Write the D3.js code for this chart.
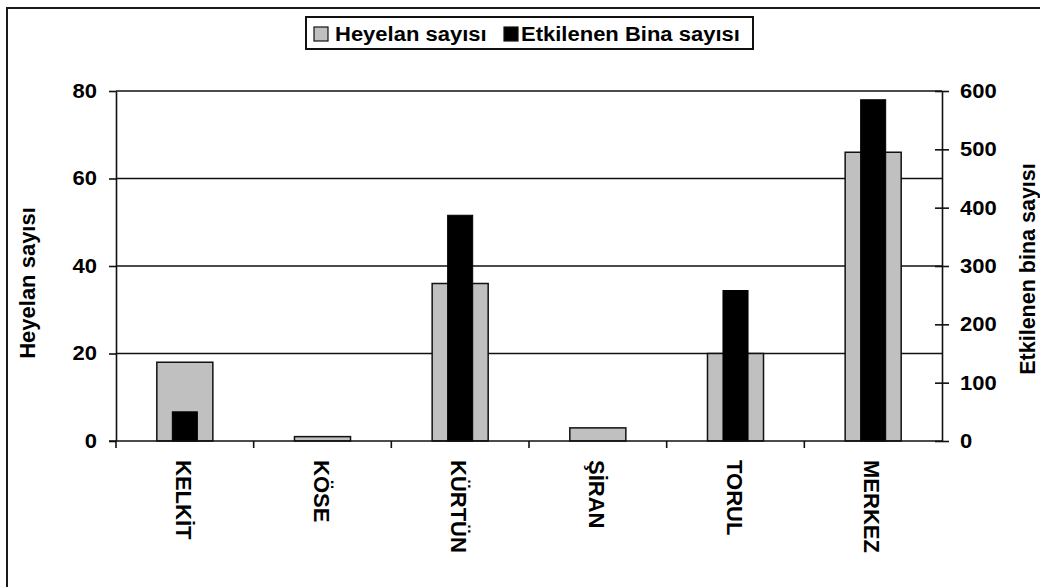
<!DOCTYPE html>
<html>
<head>
<meta charset="utf-8">
<script src="https://cdn.jsdelivr.net/npm/d3@7"></script>
<style>
  html, body { margin: 0; padding: 0; background: #fff; }
  svg { display: block; font-family: "Liberation Sans", Arial, sans-serif; }
</style>
</head>
<body>
<svg id="chart" width="1040" height="587"></svg>
<script>
const categories = ["KELKİT", "KÖSE", "KÜRTÜN", "ŞİRAN", "TORUL", "MERKEZ"];
const heyelanValues = [18, 1, 36, 3, 20, 66];
const binaValues = [50, 0, 387, 0, 258, 585];
const leftTicks = [0, 20, 40, 60, 80];
const rightTicks = [0, 100, 200, 300, 400, 500, 600];
const seriesNames = ["Heyelan sayısı", "Etkilenen Bina sayısı"];
const axisTitles = ["Heyelan sayısı", "Etkilenen bina sayısı"];

const svg = d3.select("#chart");
const W = 1040, H = 587;
const plot = { left: 116, right: 942, top: 91, bottom: 441 };
const stretch = 1.1;

// outer frame (cropped at right/bottom)
svg.append("rect")
  .attr("x", 7).attr("y", 8)
  .attr("width", W + 20).attr("height", H + 20)
  .attr("fill", "none").attr("stroke", "#1a1a1a").attr("stroke-width", 2);

const x = d3.scaleBand().domain(categories).range([plot.left, plot.right]).paddingInner(0).paddingOuter(0);
const yL = d3.scaleLinear().domain([0, 80]).range([plot.bottom, plot.top]);
const yR = d3.scaleLinear().domain([0, 600]).range([plot.bottom, plot.top]);

// gridlines
svg.append("g").selectAll("line").data(leftTicks.filter(d => d > 0)).join("line")
  .attr("x1", plot.left).attr("x2", plot.right)
  .attr("y1", d => yL(d)).attr("y2", d => yL(d))
  .attr("stroke", "#111").attr("stroke-width", 1.6);

const grayW = x.bandwidth() * 0.407;
const blackW = x.bandwidth() * 0.182;

// gray bars
svg.append("g").selectAll("rect").data(categories).join("rect")
  .attr("x", d => x(d) + x.bandwidth() / 2 - grayW / 2)
  .attr("width", grayW)
  .attr("y", (d, i) => yL(heyelanValues[i]))
  .attr("height", (d, i) => yL(0) - yL(heyelanValues[i]))
  .attr("fill", "#c0c0c0").attr("stroke", "#111").attr("stroke-width", 1.5);

// black bars
svg.append("g").selectAll("rect").data(categories.filter((d, i) => binaValues[i] > 0)).join("rect")
  .attr("x", d => x(d) + x.bandwidth() / 2 - blackW / 2)
  .attr("width", blackW)
  .attr("y", d => yR(binaValues[categories.indexOf(d)]))
  .attr("height", d => yR(0) - yR(binaValues[categories.indexOf(d)]))
  .attr("fill", "#000").attr("stroke", "#000").attr("stroke-width", 1);

function styleAxis(g) {
  g.select(".domain").attr("stroke", "#111").attr("stroke-width", 1.6);
  g.selectAll(".tick line").attr("stroke", "#111").attr("stroke-width", 1.6);
  g.selectAll("text").attr("fill", "#000").attr("font-weight", "bold").attr("font-size", 20);
}

function stretchText(sel) {
  sel.each(function () {
    const len = this.getComputedTextLength();
    d3.select(this).attr("textLength", len * stretch).attr("lengthAdjust", "spacingAndGlyphs");
  });
}

// left axis
const gL = svg.append("g").attr("transform", `translate(${plot.left},0)`)
  .call(d3.axisLeft(yL).tickValues(leftTicks).tickSize(7).tickPadding(12).tickSizeOuter(0));
styleAxis(gL);
stretchText(gL.selectAll("text"));

// right axis
const gR = svg.append("g").attr("transform", `translate(${plot.right},0)`)
  .call(d3.axisRight(yR).tickValues(rightTicks).tickSize(7).tickPadding(11).tickSizeOuter(0));
styleAxis(gR);
gR.selectAll(".tick line").attr("x1", -7);
stretchText(gR.selectAll("text"));

// bottom axis
const gB = svg.append("g").attr("transform", `translate(0,${plot.bottom})`)
  .call(d3.axisBottom(x).tickSize(0).tickSizeOuter(0));
gB.select(".domain").remove();
svg.append("line").attr("x1", plot.left - 7).attr("x2", plot.right)
  .attr("y1", plot.bottom).attr("y2", plot.bottom).attr("stroke", "#111").attr("stroke-width", 1.6);
// category separator ticks
const boundaries = categories.map(d => x(d)).slice(1);
svg.append("g").selectAll("line").data(boundaries).join("line")
  .attr("x1", d => d).attr("x2", d => d)
  .attr("y1", plot.bottom).attr("y2", plot.bottom + 7)
  .attr("stroke", "#111").attr("stroke-width", 1.6);
svg.append("line").attr("x1", plot.left).attr("x2", plot.left)
  .attr("y1", plot.bottom).attr("y2", plot.bottom + 7)
  .attr("stroke", "#111").attr("stroke-width", 1.6);

gB.selectAll(".tick text")
  .attr("font-size", 22).attr("font-weight", "bold").attr("fill", "#000")
  .attr("text-anchor", "start")
  .attr("transform", "translate(-1,19) rotate(90)")
  .attr("x", 0).attr("y", 0).attr("dy", "0.36em");

// axis titles
svg.append("text")
  .attr("transform", `translate(27,283) rotate(-90)`)
  .attr("text-anchor", "middle").attr("dy", "0.36em")
  .attr("font-size", 22).attr("font-weight", "bold")
  .text(axisTitles[0]);
svg.append("text")
  .attr("transform", `translate(1027,269) rotate(-90)`)
  .attr("text-anchor", "middle").attr("dy", "0.36em")
  .attr("font-size", 21.5).attr("font-weight", "bold")
  .text(axisTitles[1]);

// legend
const lg = svg.append("g");
lg.append("rect").attr("x", 306).attr("y", 17).attr("width", 447).attr("height", 32)
  .attr("fill", "#fff").attr("stroke", "#111").attr("stroke-width", 2);
const legendItems = [
  { name: seriesNames[0], fill: "#c0c0c0", sx: 314, tx: 335 },
  { name: seriesNames[1], fill: "#000", sx: 504, tx: 521 }
];
legendItems.forEach(it => {
  lg.append("rect").attr("x", it.sx).attr("y", 27).attr("width", 14).attr("height", 14)
    .attr("fill", it.fill).attr("stroke", "#111").attr("stroke-width", 1.2);
  const t = lg.append("text").attr("x", it.tx).attr("y", 41)
    .attr("font-size", 20).attr("font-weight", "bold").text(it.name);
  stretchText(t);
});
</script>
</body>
</html>
